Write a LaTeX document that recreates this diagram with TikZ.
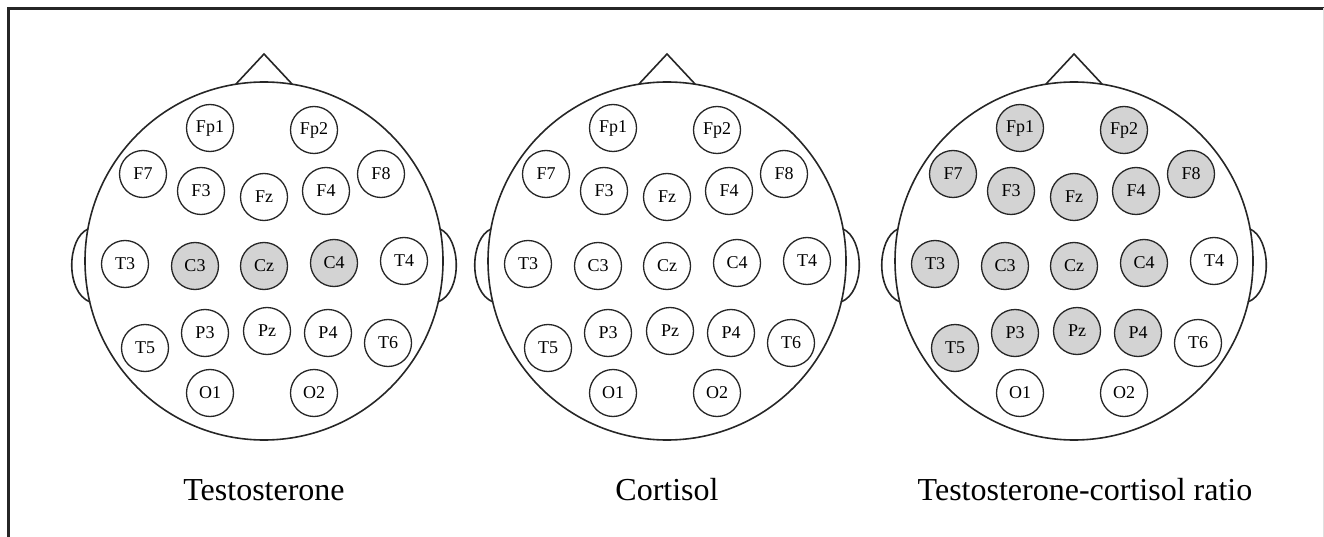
\documentclass[tikz,border=0pt]{standalone}
\usepackage{fontspec}
\setmainfont{Liberation Serif}

\definecolor{eegon}{RGB}{211,211,211}

% electrodes that are shaded on a given head: \markactive{head}{label}
\newcommand\markactive[2]{\expandafter\gdef\csname eegon-#1-#2\endcsname{}}
\foreach \e in {C3,Cz,C4}{\markactive{1}{\e}}
\foreach \e in {Fp1,Fp2,F7,F3,Fz,F4,F8,T3,C3,Cz,C4,T5,P3,Pz,P4}{\markactive{3}{\e}}

\tikzset{
  frameline/.style={line width=3pt, black!85},
  faintline/.style={line width=0.8pt, black!12},
  headline/.style={line width=1.6pt, black!85},
  scalp/.style={circle, draw=black!85, line width=1.6pt, minimum size=358pt, inner sep=0pt},
  electrode/.style={circle, draw=black!85, line width=1.3pt, minimum size=47pt, inner sep=0pt,
    font=\fontsize{18}{20}\selectfont},
  caption/.style={font=\fontsize{32}{36}\selectfont, inner sep=0pt, anchor=base},
}

\begin{document}
\begin{tikzpicture}[x=1pt, y=-1pt]
\useasboundingbox (0,0) rectangle (1324,537);

% outer frame
\draw[frameline] (8.5,545) -- (8.5,8.5) -- (1330,8.5);
\draw[faintline] (1323,8.5) -- (1323,545);

\foreach \h/\cx/\tx/\title in {1/264/264/Testosterone, 2/667/667/Cortisol, 3/1074/1085/Testosterone-cortisol ratio} {
  \begin{scope}[shift={(\cx,261)}]
    % head outline, ears and nose
    \node[scalp] (h\h) at (0,0) {};
    \draw[headline] (-176,-32) .. controls (-197,-23) and (-199,31) .. (-174,41);
    \draw[headline] (176,-32) .. controls (197,-23) and (199,31) .. (174,41);
    \draw[headline] (-28,-177) -- (0,-207) -- (28,-177);
    % 10-20 electrode sites
    \foreach \lab/\dx/\dy in {Fp1/-54/-133, Fp2/50/-131,
        F7/-121/-87, F3/-63/-70, Fz/0/-64, F4/62/-70, F8/117/-87,
        T3/-139/3, C3/-69/5, Cz/0/5, C4/70/2, T4/140/0,
        T5/-119/87, P3/-59/72, Pz/3/70, P4/64/72, T6/124/82,
        O1/-54/132, O2/50/132} {
      \ifcsname eegon-\h-\lab\endcsname \def\eegfill{eegon}\else\def\eegfill{white}\fi
      \node[electrode, fill=\eegfill] (h\h-\lab) at (\dx,\dy) {\lab};
    }
  \end{scope}
  \node[caption] (t\h) at (\tx,500) {\title};
}
\end{tikzpicture}
\end{document}
